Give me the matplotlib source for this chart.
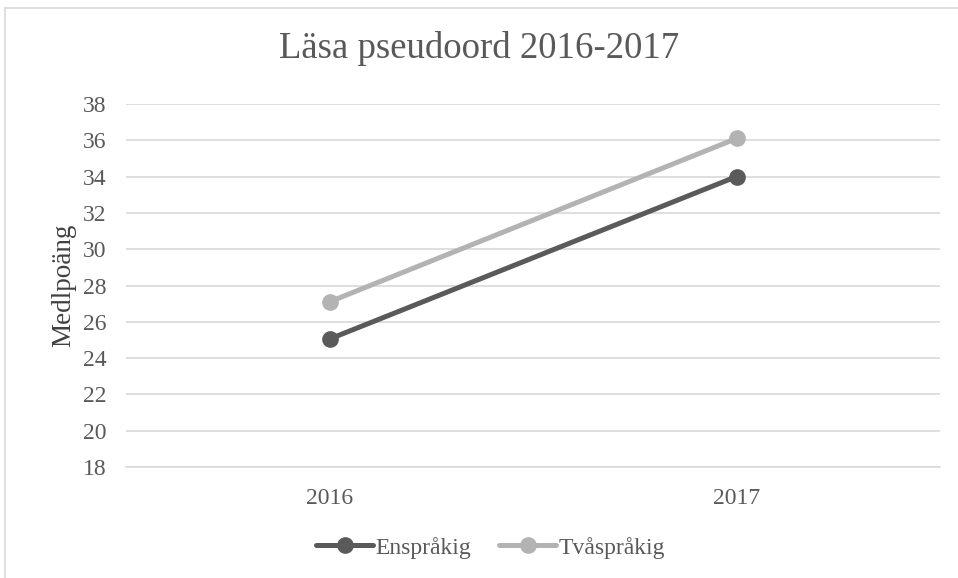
import matplotlib.pyplot as plt
from matplotlib.patches import Rectangle

# data
years = ["2016", "2017"]
enspr = [25.05, 34.0]
tvaspr = [27.1, 36.1]
yticks = list(range(18, 40, 2))

plt.rcParams['font.family'] = ['Liberation Serif', 'DejaVu Serif']

fig = plt.figure(figsize=(9.58, 5.78), dpi=100)
ax = fig.add_axes([126 / 958, 1 - 467 / 578, 814 / 958, 363 / 578])

# outer chart border like Excel
fig.patches.append(Rectangle((5 / 958, -0.1), 1.1, 1 - 8 / 578 + 0.1,
                             transform=fig.transFigure, fill=False,
                             edgecolor="#d9d9d9", linewidth=1.2))

x = range(len(years))
ax.plot(x, enspr, color="#5a5a5a", linewidth=3.6, marker="o", markersize=11,
        label="Enspråkig", solid_capstyle="round", zorder=3)
ax.plot(x, tvaspr, color="#b3b3b3", linewidth=3.6, marker="o", markersize=11,
        label="Tvåspråkig", solid_capstyle="round", zorder=3)

ax.set_xlim(-0.5, 1.5)
ax.set_ylim(18, 38)
ax.set_yticks(yticks)
ax.set_xticks(list(x))
ax.set_xticklabels(years)
ax.grid(axis="y", color="#d9d9d9", linewidth=1.2)
ax.set_axisbelow(True)
for side in ["top", "right", "left"]:
    ax.spines[side].set_visible(False)
ax.spines["bottom"].set_color("#d9d9d9")
ax.spines["bottom"].set_linewidth(1.2)
ax.tick_params(axis="y", length=0, labelsize=17, colors="#595959", pad=14)
ax.tick_params(axis="x", length=0, labelsize=17, colors="#595959", pad=15)

ax.set_ylabel("Medlpoäng", fontsize=19.5, color="#404040", labelpad=5)
fig.text(0.5, 1 - 48 / 578, "Läsa pseudoord 2016-2017", fontsize=26.5,
         color="#595959", ha="center", va="center")

ax.legend(loc="center", bbox_to_anchor=(0.448, -0.222), ncol=2, frameon=False,
          fontsize=17, labelcolor="#595959", handlelength=2.4, handletextpad=0.1,
          columnspacing=1.2)

fig.savefig("out.png", dpi=100)
